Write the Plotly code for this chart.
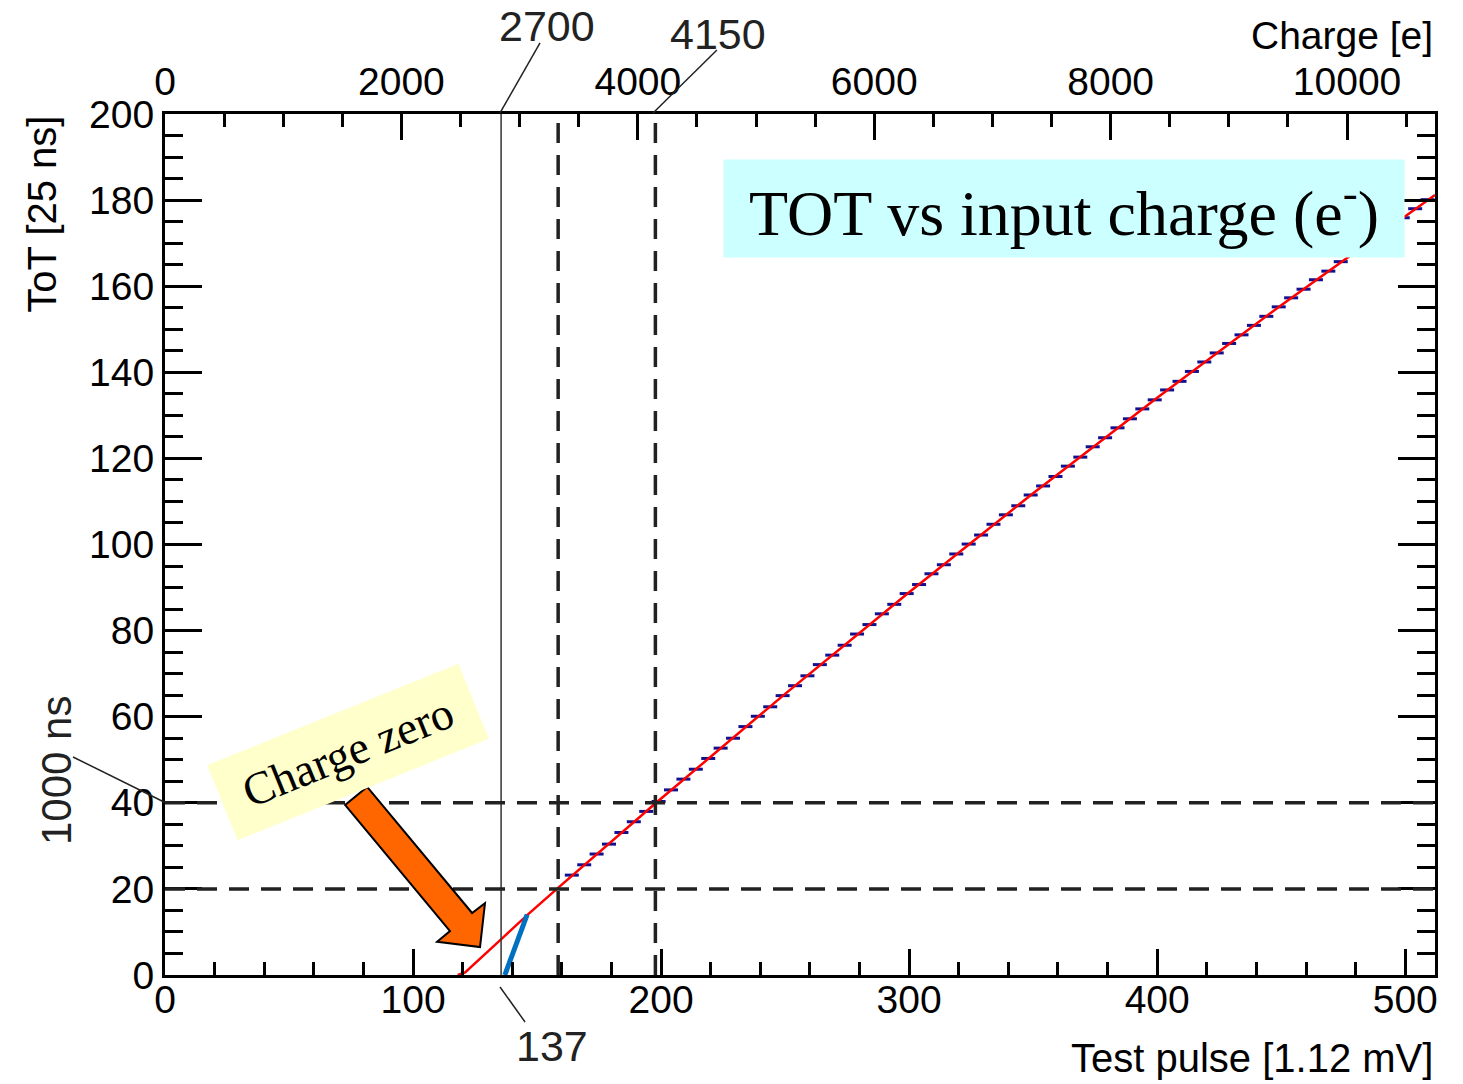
import plotly.graph_objects as go

# ---------------- data ----------------
pulse_bins = [164, 169, 174, 179, 184, 189, 194, 199, 204, 209, 214, 219, 224, 229,
              234, 239, 244, 249, 254, 259, 264, 269, 274, 279, 284, 289, 294, 299,
              304, 309, 314, 319, 324, 329, 334, 339, 344, 349, 354, 359, 364, 369,
              374, 379, 384, 389, 394, 399, 404, 409, 414, 419, 424, 429, 434, 439,
              444, 449, 454, 459, 464, 469, 474, 479, 484, 489, 494, 499, 504, 509]
tot_mean = [23.2, 25.6, 28.1, 30.4, 33.1, 35.6, 38.0, 40.3, 43.0, 45.5, 47.8, 50.3,
            52.7, 55.0, 57.7, 60.1, 62.3, 64.9, 67.2, 69.5, 72.1, 74.3, 76.6, 79.2,
            81.4, 83.9, 86.1, 88.6, 90.7, 93.2, 95.3, 97.8, 100.1, 102.2, 104.7, 106.9,
            109.0, 111.5, 113.6, 115.8, 118.2, 120.3, 122.7, 124.8, 127.1, 129.2, 131.5,
            133.6, 135.9, 137.9, 140.2, 142.4, 144.5, 146.7, 148.7, 150.9, 153.0, 155.2,
            157.3, 159.3, 161.5, 163.5, 165.7, 167.6, 169.8, 171.8, 173.9, 175.9, 178.0,
            180.1]

fit_x = [118, 121, 137, 146, 158, 198, 250, 300, 350, 400, 450, 512]
fit_y = [0, 0.6, 9.1, 13.9, 20.0, 40.0, 65.3, 88.9, 111.9, 134.1, 155.6, 181.2]

seg_x = [137, 146]
seg_y = [0, 14]

solid_vline = 135.5
dashed_vlines = [158.5, 197.7]
dashed_hlines = [20, 40]

x_range = [0, 512]
y_range = [0, 200]
charge_range = [0, 10744]

pulse_ticks = [0, 100, 200, 300, 400, 500]
tot_ticks = [0, 20, 40, 60, 80, 100, 120, 140, 160, 180, 200]
charge_ticks = [0, 2000, 4000, 6000, 8000, 10000]
charge_labels = ["0", "2000", "4000", "6000", "8000", "10000"]

SANS = "Liberation Sans, Arial, Helvetica, sans-serif"
SERIF = "Liberation Serif, Times New Roman, serif"

fig = go.Figure()

fig.add_trace(go.Scatter(
    x=pulse_bins, y=tot_mean, mode="markers",
    marker=dict(symbol="line-ew", size=10, color="#101090",
                line=dict(width=3, color="#101090")),
    showlegend=False, hoverinfo="x+y"))

fig.add_trace(go.Scatter(
    x=fit_x, y=fit_y, mode="lines",
    line=dict(color="#ff0000", width=2.5), showlegend=False))

fig.add_trace(go.Scatter(
    x=seg_x, y=seg_y, mode="lines",
    line=dict(color="#0070c0", width=5), showlegend=False))

# invisible trace to carry the top charge axis
fig.add_trace(go.Scatter(
    x=charge_range, y=[0, 0], xaxis="x2", mode="markers",
    marker=dict(opacity=0), showlegend=False, hoverinfo="skip"))

shapes = []
shapes.append(dict(type="line", xref="x", yref="y", x0=solid_vline, x1=solid_vline,
                   y0=y_range[0], y1=y_range[1], line=dict(color="#333333", width=1.5)))
for xv in dashed_vlines:
    shapes.append(dict(type="line", xref="x", yref="y", x0=xv, x1=xv,
                       y0=y_range[0], y1=y_range[1],
                       line=dict(color="#222222", width=3.5, dash="20px,12px")))
for yv in dashed_hlines:
    shapes.append(dict(type="line", xref="x", yref="y", x0=x_range[0], x1=x_range[1],
                       y0=yv, y1=yv,
                       line=dict(color="#222222", width=3.5, dash="20px,12px")))

# orange block arrow
arrow_path = ("M 72.6,39.5 L 81.5,43.7 L 123.8,14.4 L 129.0,16.7 "
              "L 127.0,6.5 L 109.7,7.7 L 114.9,10.2 Z")
shapes.append(dict(type="path", xref="x", yref="y", path=arrow_path,
                   fillcolor="#ff6600", line=dict(color="black", width=2), layer="above"))

# leader lines
leaders = [
    (0.2953, 1.0825, 0.2638, 1.0012),
    (0.4346, 1.0743, 0.3843, 1.0012),
    (0.2638, -0.0139, 0.2835, -0.0546),
    (-0.0724, 0.2532, 0.0008, 0.1998),
]
for x0, y0, x1, y1 in leaders:
    shapes.append(dict(type="line", xref="paper", yref="paper", x0=x0, y0=y0, x1=x1, y1=y1,
                       line=dict(color="#222222", width=1.5)))

annotations = [
    dict(text="Charge [e]", x=1.0, y=1.0906, xanchor="right", yanchor="middle",
         font=dict(family=SANS, size=39, color="black")),
    dict(text="Test pulse [1.12 mV]", x=1.0, y=-0.0964, xanchor="right", yanchor="middle",
         font=dict(family=SANS, size=40, color="black")),
    dict(text="ToT [25 ns]", x=-0.0975, y=1.0, xanchor="center", yanchor="top",
         textangle=-90, font=dict(family=SANS, size=40, color="black")),
    dict(text="2700", x=0.3008, y=1.1022, xanchor="center", yanchor="middle",
         font=dict(family=SANS, size=43, color="#222222")),
    dict(text="4150", x=0.4354, y=1.0929, xanchor="center", yanchor="middle",
         font=dict(family=SANS, size=43, color="#222222")),
    dict(text="137", x=0.3047, y=-0.0825, xanchor="center", yanchor="middle",
         font=dict(family=SANS, size=43, color="#222222")),
    dict(text="1000 ns", x=-0.0858, y=0.2369, xanchor="center", yanchor="middle",
         textangle=-90, font=dict(family=SANS, size=42, color="#222222")),
    dict(text="Charge zero", x=0.1441, y=0.2590, xanchor="center", yanchor="middle",
         textangle=-22, bgcolor="#ffffcc", borderpad=10, width=250, height=60,
         font=dict(family=SERIF, size=46, color="black")),
    dict(text="TOT vs input charge (e<sup>-</sup>)", x=0.7079, y=0.8908,
         xanchor="center", yanchor="middle", bgcolor="#ccffff", borderpad=6,
         width=668, height=85, font=dict(family=SERIF, size=64, color="black")),
]
for a in annotations:
    a.setdefault("xref", "paper")
    a.setdefault("yref", "paper")
    a["showarrow"] = False

axis_common = dict(showgrid=False, zeroline=False, showline=True, linecolor="black",
                   linewidth=3, ticks="inside", tickcolor="black",
                   tickfont=dict(family=SANS, size=39, color="black"))

fig.update_layout(
    width=1463, height=1084,
    margin=dict(l=165, r=28, t=114, b=109, autoexpand=False),
    paper_bgcolor="white", plot_bgcolor="white",
    shapes=shapes, annotations=annotations,
    xaxis=dict(range=x_range, tickvals=pulse_ticks, ticklen=26, tickwidth=2.5,
               ticklabelstandoff=-12,
               minor=dict(dtick=20, ticklen=13, tickwidth=2.5, ticks="inside", tickcolor="black"),
               mirror=True, **axis_common),
    yaxis=dict(range=y_range, tickvals=tot_ticks, ticklen=37, tickwidth=2.5,
               minor=dict(dtick=5, ticklen=18, tickwidth=2.5, ticks="inside", tickcolor="black"),
               mirror="ticks", **axis_common),
    xaxis2=dict(range=charge_range, overlaying="x", side="top", anchor="y",
                tickvals=charge_ticks, ticktext=charge_labels, ticklen=26, tickwidth=2.5,
                minor=dict(dtick=500, ticklen=13, tickwidth=2.5, ticks="inside", tickcolor="black"),
                **axis_common),
)

fig.write_html("out.html")
